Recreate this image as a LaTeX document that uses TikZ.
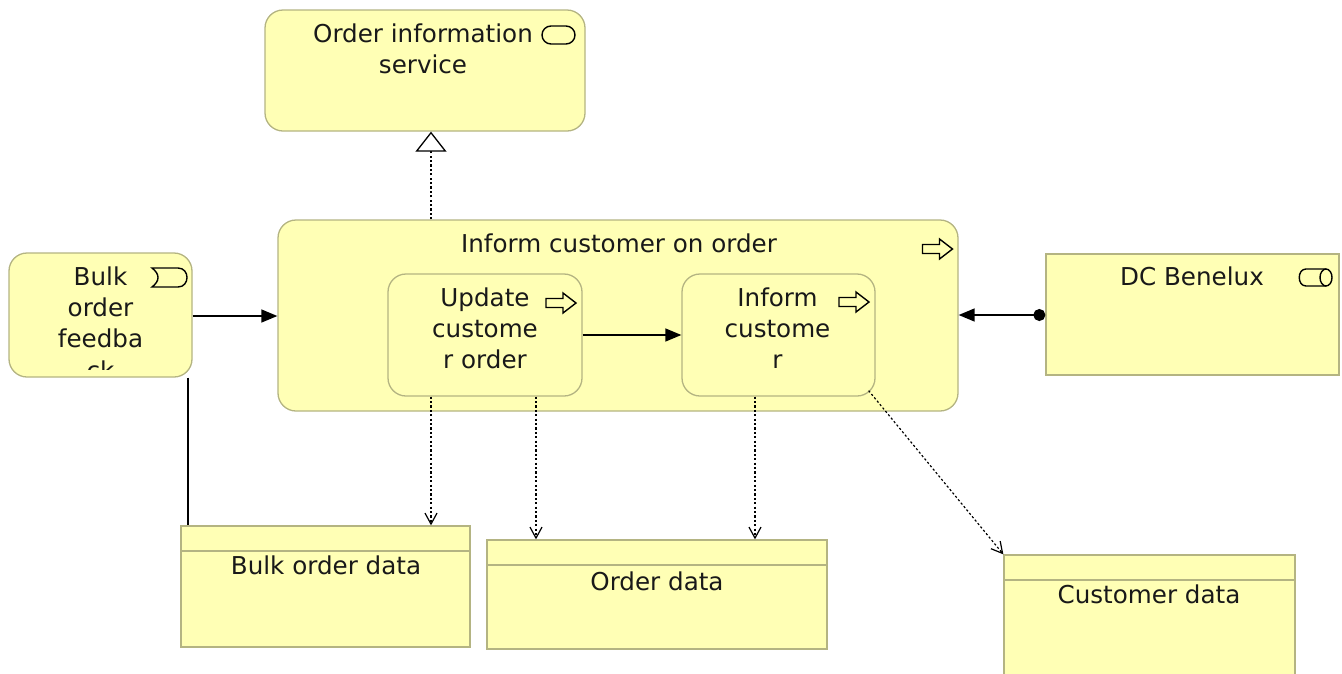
\documentclass[tikz,border=0pt]{standalone}
\usepackage{fontspec}
\setmainfont{DejaVu Sans}
\usetikzlibrary{arrows.meta}
\definecolor{yl}{RGB}{255,255,181}
\definecolor{bd}{RGB}{180,180,130}
\definecolor{tx}{RGB}{25,25,25}
\newcommand\lblfont{\fontsize{24.6}{31}\selectfont}
\tikzset{
  elem/.style={draw=bd, fill=yl, line width=1.3pt, inner sep=0pt},
  rnd/.style={elem, rounded corners=18pt},
  txt/.style={inner sep=0pt, anchor=base, font=\lblfont, text=tx},
  icon/.style={draw=black, line width=1.4pt, line join=miter},
  hdr/.style={draw=bd, line width=1.3pt},
  dotline/.style={line width=1.2pt, dash pattern=on 2.2pt off 2.2pt},
  realz/.style={dotline, -{Triangle[open, fill=white, length=20pt, width=31pt, line width=1.3pt]}},
  trig/.style={line width=1.4pt, -{Triangle[length=16pt, width=13pt]}},
  assign/.style={line width=1.4pt, {Circle[length=12pt]}-{Triangle[length=16pt, width=13pt]}},
  assoc/.style={line width=1.4pt},
  access/.style={dotline, -{Straight Barb[length=11pt, width=12pt, line width=1.2pt]}},
  procicon/.pic={\draw[icon] (0,-4.5) -- (17,-4.5) -- (17,-10) -- (30,0) -- (17,10) -- (17,4.5) -- (0,4.5) -- cycle;}
}
\begin{document}
\begin{tikzpicture}[x=1pt, y=-1pt]
\useasboundingbox (0,0) rectangle (1342,673);

% helper coordinates for connector positions
\coordinate (x188) at (188,0);
\coordinate (x431) at (431,0);
\coordinate (x536) at (536,0);
\coordinate (x755) at (755,0);
\coordinate (y315) at (0,315);
\coordinate (y316) at (0,316);
\coordinate (y335) at (0,335);

% elements
\node[rnd, minimum width=320pt, minimum height=121pt] (ois) at (425,70.5) {};
\node[rnd, minimum width=680pt, minimum height=191pt] (ico) at (618,315.5) {};
\node[rnd, minimum width=183pt, minimum height=124pt] (bof) at (100.5,315) {};
\node[rnd, minimum width=194pt, minimum height=122pt] (ucu) at (485,335) {};
\node[rnd, minimum width=193pt, minimum height=122pt] (ic) at (778.5,335) {};
\node[elem, minimum width=293pt, minimum height=121pt] (dc) at (1192.5,314.5) {};
\node[elem, minimum width=289pt, minimum height=121pt] (bod) at (325.5,586.5) {};
\node[elem, minimum width=340pt, minimum height=109pt] (od) at (657,594.5) {};
\node[elem, minimum width=291pt, minimum height=125pt] (cd) at (1149.5,617.5) {};

% data object header lines
\coordinate (h1) at (0,551);
\coordinate (h2) at (0,565);
\coordinate (h3) at (0,580);
\draw[hdr] (bod.west |- h1) -- (bod.east |- h1);
\draw[hdr] (od.west |- h2) -- (od.east |- h2);
\draw[hdr] (cd.west |- h3) -- (cd.east |- h3);

% texts
\node[txt] (t1) at (423,42.5) {Order information};
\node[txt] (t2) at (423,73.5) {service};
\node[txt] (t3) at (619,252) {Inform customer on order};
\node[txt] (t4) at (100.5,285) {Bulk};
\node[txt] (t5) at (100.5,316) {order};
\node[txt] (t6) at (100.5,347) {feedba};
\begin{scope}
  \clip (9,253) rectangle (192,369);
  \node[txt] (t7) at (100.5,379) {ck};
\end{scope}
\node[txt] (t8) at (485,306) {Update};
\node[txt] (t9) at (485,337) {custome};
\node[txt] (t10) at (485,368) {r order};
\node[txt] (t11) at (777.5,306) {Inform};
\node[txt] (t12) at (777.5,337) {custome};
\node[txt] (t13) at (777.5,368) {r};
\node[txt] (t14) at (1192,285) {DC Benelux};
\node[txt] (t15) at (326,574) {Bulk order data};
\node[txt] (t16) at (657,590) {Order data};
\node[txt] (t17) at (1149,603) {Customer data};

% icons
\draw[icon, rounded corners=9pt] (542,26) rectangle (575,44);
\pic at (922.5,249) {procicon};
\pic at (546,303) {procicon};
\pic at (839,302) {procicon};
\draw[icon] (152,268) -- (178,268) .. controls (190,268) and (190,287) .. (178,287) -- (152,287) .. controls (160,281) and (160,274) .. (152,268) -- cycle;
\draw[icon] (1326,269) -- (1306,269) .. controls (1297,269) and (1297,286) .. (1306,286) -- (1326,286);
\draw[icon] (1326,277.5) ellipse [x radius=6, y radius=8.5];

% connectors
\draw[realz] (ico.north -| x431) -- (ois.south -| x431);
\draw[trig] (bof.east |- y316) -- (ico.west |- y316);
\draw[trig] (ucu.east |- y335) -- (ic.west |- y335);
\draw[assign] (dc.west |- y315) -- (ico.east |- y315);
\draw[assoc] (bof.south -| x188) -- (bod.north -| x188);
\draw[access] (ucu.south -| x431) -- (bod.north -| x431);
\draw[access] (ucu.south -| x536) -- (od.north -| x536);
\draw[access] (ic.south -| x755) -- (od.north -| x755);
\draw[access] ([shift={(-7pt,6pt)}]ic.south east) -- (cd.north west);
\end{tikzpicture}
\end{document}
